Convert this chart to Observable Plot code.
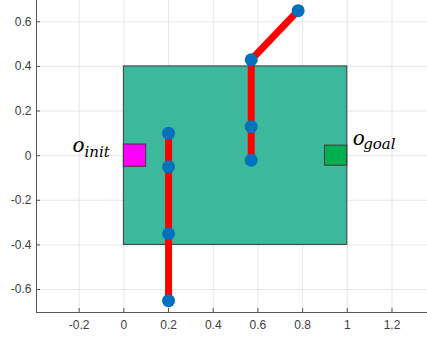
<!DOCTYPE html>
<html><head><meta charset="utf-8">
<script src="https://cdn.jsdelivr.net/npm/d3@7"></script>
<script src="https://cdn.jsdelivr.net/npm/@observablehq/plot@0.6"></script>
<style>body{margin:0;background:#fff}</style>
</head><body><div id="chart"></div>
<script>
// ---- data ----
const xDomain = [-0.391, 1.359];
const yDomain = [-0.703, 0.6955];
const xTicks = [-0.2, 0, 0.2, 0.4, 0.6, 0.8, 1, 1.2];
const yTicks = [-0.6, -0.4, -0.2, 0, 0.2, 0.4, 0.6];
const regionX = [0, 1];
const regionY = [-0.4, 0.4];
const initX = [0, 0.1];
const initY = [-0.05, 0.05];
const goalX = [0.9, 1];
const goalY = [-0.045, 0.045];
const link1X = [0.2, 0.2, 0.2, 0.2];
const link1Y = [0.1, -0.05, -0.35, -0.65];
const link2X = [0.57, 0.57, 0.57, 0.78];
const link2Y = [-0.02, 0.13, 0.43, 0.65];
const labelMain = ["o", "o"];
const labelSub = ["init", "goal"];
const labelMainX = [-0.23, 1.024];
const labelMainY = [0.015, 0.046];
const labelSubX = [-0.176, 1.071];
const labelSubY = [-0.006, 0.031];

// ---- build ----
const W = 427, H = 338, mL = 36, mB = 26, mT = 0, mR = 0;
const plotW = W - mL - mR, plotH = H - mT - mB;
const rects = [
  {x1: regionX[0], x2: regionX[1], y1: regionY[0], y2: regionY[1], fill: "#3cb99d"},
  {x1: initX[0], x2: initX[1], y1: initY[0], y2: initY[1], fill: "#ff00ff"},
  {x1: goalX[0], x2: goalX[1], y1: goalY[0], y2: goalY[1], fill: "#00b050"}
];
const link1 = link1X.map((x, i) => ({x, y: link1Y[i]}));
const link2 = link2X.map((x, i) => ({x, y: link2Y[i]}));
const mains = labelMain.map((t, i) => ({t, x: labelMainX[i], y: labelMainY[i]}));
const subs = labelSub.map((t, i) => ({t, x: labelSubX[i], y: labelSubY[i]}));
const fmt = d => String(d);

const chart = Plot.plot({
  width: W, height: H,
  marginLeft: mL, marginRight: mR, marginTop: mT, marginBottom: mB,
  x: {domain: xDomain},
  y: {domain: yDomain},
  style: {fontFamily: "'Liberation Sans', Arial, sans-serif", fontSize: "12px", color: "#404040", background: "#fff"},
  marks: [
    Plot.gridX(xTicks, {stroke: "#e6e6e6", strokeOpacity: 1}),
    Plot.gridY(yTicks, {stroke: "#e6e6e6", strokeOpacity: 1}),
    Plot.rect(rects, {x1: "x1", x2: "x2", y1: "y1", y2: "y2", fill: d => d.fill, stroke: "#3a3a3a", strokeWidth: 1}),
    Plot.line(link1, {x: "x", y: "y", stroke: "#ff0000", strokeWidth: 7, strokeLinecap: "butt"}),
    Plot.line(link2, {x: "x", y: "y", stroke: "#ff0000", strokeWidth: 7, strokeLinecap: "butt"}),
    Plot.dot(link1, {x: "x", y: "y", r: 6.5, fill: "#0072bd", stroke: "none"}),
    Plot.dot(link2, {x: "x", y: "y", r: 6.5, fill: "#0072bd", stroke: "none"}),
    Plot.text(mains, {x: "x", y: "y", text: "t", textAnchor: "start", lineAnchor: "bottom",
      fontFamily: "'DejaVu Serif', serif", fontStyle: "italic", fontSize: 20, fill: "#000"}),
    Plot.text(subs, {x: "x", y: "y", text: "t", textAnchor: "start", lineAnchor: "bottom",
      fontFamily: "'DejaVu Serif', serif", fontStyle: "italic", fontSize: 15, fill: "#000", style: "letter-spacing:1px"}),
    Plot.ruleX([xDomain[0]], {stroke: "#555", strokeWidth: 1}),
    Plot.ruleY([yDomain[0]], {stroke: "#555", strokeWidth: 1}),
    Plot.tickX(xTicks, {x: d => d, insetTop: plotH - 4, stroke: "#555"}),
    Plot.tickY(yTicks, {y: d => d, insetRight: plotW - 4, stroke: "#555"}),
    Plot.axisX(xTicks, {tickSize: 0, tickPadding: 8, tickFormat: fmt, fill: "#404040", label: null}),
    Plot.axisY(yTicks, {tickSize: 0, tickPadding: 5, tickFormat: fmt, fill: "#404040", label: null})
  ]
});
document.getElementById("chart").appendChild(chart);
</script>
</body></html>
